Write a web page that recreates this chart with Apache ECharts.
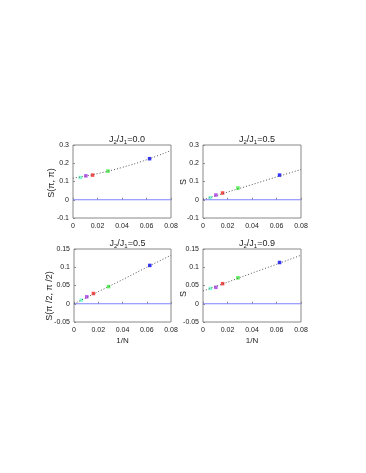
<!DOCTYPE html>
<html>
<head>
<meta charset="utf-8">
<script src="https://cdn.jsdelivr.net/npm/echarts@6/dist/echarts.min.js"></script>
<style>
  html, body { margin: 0; padding: 0; background: #fff; }
  #chart { width: 366px; height: 473px; }
</style>
</head>
<body>
<div id="chart"></div>
<script>
// 1/N of the clusters (blue, green, red, magenta, cyan)
const invN = [0.0625, 0.0285, 0.0160, 0.0105, 0.0060];

// panel values
const sPiPi00 = [0.225, 0.157, 0.135, 0.131, 0.122];
const sPiPi05 = [0.135, 0.064, 0.037, 0.026, 0.011];
const sHalf05 = [0.105, 0.047, 0.028, 0.019, 0.010];
const sHalf09 = [0.113, 0.071, 0.055, 0.045, 0.042];

// extrapolation curves (x, y) read at a few places
const fitX = [0, 0.02, 0.04, 0.06, 0.08];
const fit00 = [0.118, 0.143, 0.177, 0.219, 0.27];
const fit05 = [0, 0.042, 0.083, 0.125, 0.166];
const fitHalf05 = [0, 0.033, 0.066, 0.1, 0.133];
const fitHalf09 = [0.035, 0.059, 0.084, 0.108, 0.133];

const titles = ["0.0", "0.5", "0.5", "0.9"];
const yNames = ["S(\u03c0, \u03c0)", "S", "S(\u03c0 /2, \u03c0 /2)", "S"];
const xTicks = [0, 0.02, 0.04, 0.06, 0.08];

const dotColors = ["#0000ff", "#33ee33", "#ff2020", "#aa33ee", "#66ffcc"];

const panels = [
  { pts: sPiPi00, fit: fit00, min: -0.1, max: 0.3, step: 0.1 },
  { pts: sPiPi05, fit: fit05, min: -0.1, max: 0.3, step: 0.1 },
  { pts: sHalf05, fit: fitHalf05, min: -0.05, max: 0.15, step: 0.05 },
  { pts: sHalf09, fit: fitHalf09, min: -0.05, max: 0.15, step: 0.05 }
];

const boxes = [
  { left: 73, top: 145, width: 98, height: 73 },
  { left: 203, top: 145, width: 98, height: 73 },
  { left: 74, top: 249, width: 97, height: 73 },
  { left: 203, top: 249, width: 98, height: 73 }
];
// centre of each rotated y name
const namePos = [[52, 183], [184, 182], [50, 296], [184, 294]];

const font = "Liberation Sans";
const labelStyle = { fontFamily: font, fontSize: 7, color: "#222" };

const grid = [];
const xAxis = [];
const yAxis = [];
const series = [];
const title = [];
const graphic = [];

panels.forEach((p, i) => {
  const b = boxes[i];
  grid.push({
    left: b.left, top: b.top, width: b.width, height: b.height,
    show: true, borderColor: "#888", borderWidth: 1, backgroundColor: "#fff"
  });
  xAxis.push({
    gridIndex: i, type: "value", min: 0, max: 0.08, interval: 0.02,
    name: i >= 2 ? "1/N" : "", nameLocation: "middle", nameGap: 15,
    nameTextStyle: { fontFamily: font, fontSize: 8, color: "#222" },
    axisLine: { show: false }, splitLine: { show: false },
    axisTick: { inside: true, length: 2, lineStyle: { color: "#888" } },
    axisLabel: Object.assign({ margin: 5, formatter: v => xTicks.includes(+v.toFixed(2)) ? String(+v.toFixed(2)) : "" }, labelStyle)
  });
  yAxis.push({
    gridIndex: i, type: "value", min: p.min, max: p.max, interval: p.step,
    axisLine: { show: false }, splitLine: { show: false },
    axisTick: { inside: true, length: 2, lineStyle: { color: "#888" } },
    axisLabel: Object.assign({ margin: 4, formatter: v => String(+v.toFixed(2)) }, labelStyle)
  });
  graphic.push({
    type: "text", x: namePos[i][0], y: namePos[i][1], rotation: Math.PI / 2,
    style: {
      text: yNames[i], fontFamily: font, fontSize: 9, fill: "#222",
      align: "center", verticalAlign: "middle"
    }
  });
  title.push({
    text: "J{s|2}/J{s|1}=" + titles[i],
    left: b.left + b.width / 2, top: b.top - 16, textAlign: "center",
    textStyle: {
      fontFamily: font, fontSize: 9, fontWeight: "normal", color: "#222",
      rich: { s: { fontFamily: font, fontSize: 6, verticalAlign: "bottom", padding: [5, 0, 0, 0], color: "#222" } }
    }
  });
  series.push({
    type: "line", xAxisIndex: i, yAxisIndex: i, silent: true,
    data: [[0, 0], [0.08, 0]], symbol: "none",
    lineStyle: { color: "#8080ff", width: 1 }
  });
  series.push({
    type: "line", xAxisIndex: i, yAxisIndex: i, silent: true, smooth: i === 0,
    data: fitX.map((x, k) => [x, p.fit[k]]), symbol: "none",
    lineStyle: { color: "#555", width: 1, type: [1, 2] }
  });
  series.push({
    type: "scatter", xAxisIndex: i, yAxisIndex: i, silent: true,
    symbol: "rect", symbolSize: 3.5,
    data: invN.map((x, k) => ({ value: [x, p.pts[k]], itemStyle: { color: dotColors[k] } }))
  });
});

const chart = echarts.init(document.getElementById("chart"), null, { renderer: "canvas" });
chart.setOption({
  animation: false,
  backgroundColor: "#fff",
  title, grid, xAxis, yAxis, series, graphic
});
</script>
</body>
</html>
